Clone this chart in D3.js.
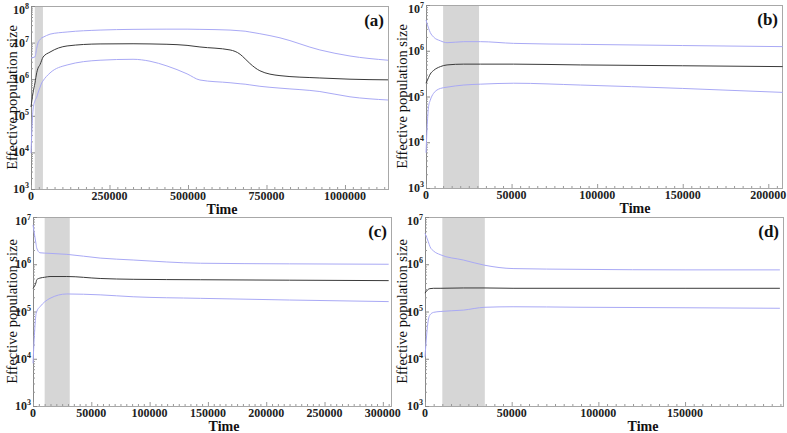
<!DOCTYPE html>
<html>
<head>
<meta charset="utf-8">
<script src="https://cdn.jsdelivr.net/npm/d3@7"></script>
<style>
  body { margin: 0; background: #fff; }
  svg text { font-family: "Liberation Serif", "DejaVu Serif", serif; }
  .frame { fill: none; stroke: #a8a8a8; stroke-width: 1; }
  .band { fill: #d6d6d6; }
  .median { fill: none; stroke: #3a3a3a; stroke-width: 1; }
  .hpd { fill: none; stroke: #a9a9f5; stroke-width: 1; }
</style>
</head>
<body>
<div class="display"></div>
<script>
// four skyline plots, time vs. effective population size (log scale)

const WIDTH = 787;
const HEIGHT = 433;

// panel (a)
const timeA   = [0, 6400, 12700, 18200, 22300, 28700, 34100, 38200, 60500, 115000, 220000, 325000, 379000, 433000, 497000, 538000, 634000, 666000, 682000, 697000, 729000, 793000, 920000, 1016000, 1137000];
const medianA = [1.74e5, 4.2e5, 7.9e5, 1.5e6, 2.0e6, 2.5e6, 3.3e6, 4.0e6, 5.5e6, 8.1e6, 9.2e6, 9.3e6, 9.2e6, 9.0e6, 8.4e6, 7.6e6, 6.3e6, 4.8e6, 3.6e6, 2.7e6, 1.7e6, 1.25e6, 1.08e6, 1.0e6, 9.6e5];
const upperA  = [3.8e6, 3.9e6, 4.1e6, 7.0e6, 9.8e6, 1.2e7, 1.35e7, 1.4e7, 1.7e7, 1.95e7, 2.2e7, 2.3e7, 2.32e7, 2.33e7, 2.33e7, 2.3e7, 2.2e7, 2.1e7, 2.05e7, 1.95e7, 1.75e7, 1.35e7, 6.3e6, 4.3e6, 3.3e6];
const lowerA  = [9.5e3, 1.45e5, 2.6e5, 3.2e5, 4.2e5, 6.0e5, 7.9e5, 9.0e5, 1.48e6, 2.45e6, 3.3e6, 3.5e6, 3.1e6, 2.3e6, 1.4e6, 9.5e5, 8.0e5, 7.5e5, 7.3e5, 7.0e5, 6.4e5, 5.7e5, 4.6e5, 3.3e5, 2.7e5];

// panel (b)
const timeB   = [0, 1500, 2500, 4400, 8400, 12300, 22000, 31800, 51200, 90200, 150000, 208400];
const medianB = [1.95e5, 2.6e5, 3.1e5, 3.7e5, 4.5e5, 4.9e5, 5.1e5, 5.1e5, 5.1e5, 4.9e5, 4.7e5, 4.5e5];
const upperB  = [4.7e6, 3.1e6, 2.5e6, 2.0e6, 1.65e6, 1.5e6, 1.58e6, 1.58e6, 1.45e6, 1.38e6, 1.3e6, 1.23e6];
const lowerB  = [5.9e3, 6.0e4, 8.3e4, 1.17e5, 1.5e5, 1.6e5, 1.78e5, 1.86e5, 1.95e5, 1.78e5, 1.5e5, 1.23e5];

// panel (c)
const timeC   = [0, 2700, 3200, 6000, 10000, 14600, 29000, 57600, 85900, 143500, 220000, 305000];
const medianC = [3.1e5, 4.2e5, 4.7e5, 5.1e5, 5.3e5, 5.5e5, 5.5e5, 5.0e5, 4.8e5, 4.7e5, 4.6e5, 4.5e5];
const upperC  = [6.8e6, 2.6e6, 2.2e6, 1.75e6, 1.72e6, 1.7e6, 1.62e6, 1.35e6, 1.23e6, 1.05e6, 1.02e6, 1.0e6];
const lowerC  = [8.0e3, 9.1e4, 1.0e5, 1.26e5, 1.6e5, 1.9e5, 2.35e5, 2.25e5, 2.05e5, 1.9e5, 1.75e5, 1.62e5];

// panel (d)
const timeD   = [0, 1900, 2900, 5000, 8700, 22100, 34600, 50800, 89400, 150000, 204700];
const medianD = [2.45e5, 2.95e5, 3.05e5, 3.1e5, 3.1e5, 3.15e5, 3.15e5, 3.1e5, 3.1e5, 3.1e5, 3.1e5];
const upperD  = [4.5e6, 3.0e6, 2.35e6, 1.9e6, 1.6e6, 1.23e6, 9.5e5, 8.1e5, 7.8e5, 7.6e5, 7.6e5];
const lowerD  = [1.1e4, 6.6e4, 8.5e4, 9.6e4, 1.0e5, 1.07e5, 1.23e5, 1.26e5, 1.23e5, 1.2e5, 1.17e5];

// x tick labels and shaded interval per panel
const ticksA = [0, 250000, 500000, 750000, 1000000];
const ticksB = [0, 50000, 100000, 150000, 200000];
const ticksC = [0, 50000, 100000, 150000, 200000, 250000, 300000];
const ticksD = [0, 50000, 100000, 150000];
const bandA = [12000, 38000];
const bandB = [10000, 31000];
const bandC = [10000, 31500];
const bandD = [10000, 34500];
const labels = ['(a)', '(b)', '(c)', '(d)'];

const panels = [
  { box: [31, 6, 388, 189],   xMax: 1137000, yExp: [3, 8], time: timeA, med: medianA, up: upperA, lo: lowerA, ticks: ticksA, minor: 25000, band: bandA, timeX: 222, ylabX: 12 },
  { box: [426, 5, 782, 188],  xMax: 208000,  yExp: [3, 7], time: timeB, med: medianB, up: upperB, lo: lowerB, ticks: ticksB, minor: 5000, band: bandB, timeX: 635, ylabX: 402 },
  { box: [33, 217, 391, 406], xMax: 307000,  yExp: [3, 7], time: timeC, med: medianC, up: upperC, lo: lowerC, ticks: ticksC, minor: 5000, band: bandC, timeX: 224, ylabX: 12 },
  { box: [425, 217, 783, 406], xMax: 206500, yExp: [3, 7], time: timeD, med: medianD, up: upperD, lo: lowerD, ticks: ticksD, minor: 5000, band: bandD, timeX: 643, ylabX: 402 }
];

const svg = d3.select('.display')
  .append('svg')
  .attr('width', WIDTH)
  .attr('height', HEIGHT)
  .attr('font-family', '"Liberation Serif", "DejaVu Serif", serif');

function drawPanel(p, i) {
  const [x0, y0, x1, y1] = p.box;
  const g = svg.append('g');

  const x = d3.scaleLinear().domain([0, p.xMax]).range([x0, x1]);
  const y = d3.scaleLog().domain([Math.pow(10, p.yExp[0]), Math.pow(10, p.yExp[1])]).range([y1, y0]);

  // shaded interval
  g.append('rect')
    .attr('class', 'band')
    .attr('x', x(p.band[0]))
    .attr('y', y0)
    .attr('width', x(p.band[1]) - x(p.band[0]))
    .attr('height', y1 - y0);

  // frame
  g.append('rect')
    .attr('class', 'frame')
    .attr('x', x0 + 0.5).attr('y', y0 + 0.5)
    .attr('width', x1 - x0).attr('height', y1 - y0);

  // left axis a bit darker
  g.append('line')
    .attr('x1', x0 + 0.5).attr('x2', x0 + 0.5)
    .attr('y1', y0).attr('y2', y1)
    .attr('stroke', '#888');

  // x minor + major ticks, pointing inwards
  const minorTicks = d3.range(0, p.xMax, p.minor);
  g.selectAll('.xminor')
    .data(minorTicks)
    .enter()
    .append('line')
    .attr('x1', d => x(d) + 0.5).attr('x2', d => x(d) + 0.5)
    .attr('y1', y1).attr('y2', d => y1 - (p.ticks.includes(d) ? 4 : 2))
    .attr('stroke', '#999');

  g.selectAll('.xlab')
    .data(p.ticks)
    .enter()
    .append('text')
    .attr('x', d => x(d))
    .attr('y', y1 + 11)
    .attr('text-anchor', 'middle')
    .attr('font-size', 12)
    .attr('font-weight', 'bold')
    .attr('fill', '#222')
    .text(d => d);

  // y ticks (log)
  const yMinor = [];
  for (let e = p.yExp[0]; e < p.yExp[1]; e++) {
    for (let m = 2; m < 10; m++) yMinor.push(m * Math.pow(10, e));
  }
  g.selectAll('.yminor')
    .data(yMinor)
    .enter()
    .append('line')
    .attr('x1', x0).attr('x2', x0 + 2)
    .attr('y1', d => y(d) + 0.5).attr('y2', d => y(d) + 0.5)
    .attr('stroke', '#999');

  const exps = d3.range(p.yExp[0], p.yExp[1] + 1);
  g.selectAll('.ymajor')
    .data(exps)
    .enter()
    .append('line')
    .attr('x1', x0).attr('x2', x0 + 4)
    .attr('y1', d => y(Math.pow(10, d)) + 0.5).attr('y2', d => y(Math.pow(10, d)) + 0.5)
    .attr('stroke', '#888');

  const ylab = g.selectAll('.ylab')
    .data(exps)
    .enter()
    .append('text')
    .attr('x', x0 - 2)
    .attr('y', d => Math.max(y(Math.pow(10, d)) + 4, y0 + 8))
    .attr('text-anchor', 'end')
    .attr('font-size', 12)
    .attr('font-weight', 'bold')
    .attr('fill', '#222');
  ylab.append('tspan').text('10');
  ylab.append('tspan').attr('dy', -5).attr('font-size', 8).text(d => d);

  // axis titles
  g.append('text')
    .attr('x', p.timeX)
    .attr('y', y1 + 25)
    .attr('text-anchor', 'middle')
    .attr('font-size', 14)
    .attr('font-weight', 'bold')
    .attr('fill', '#111')
    .text('Time');

  g.append('text')
    .attr('transform', `translate(${p.ylabX + 5},${(y0 + y1) / 2}) rotate(-90)`)
    .attr('text-anchor', 'middle')
    .attr('font-size', 14.5)
    .attr('fill', '#111')
    .text('Effective population size');

  g.append('text')
    .attr('x', x1 - 4)
    .attr('y', y0 + 20)
    .attr('text-anchor', 'end')
    .attr('font-size', 17)
    .attr('font-weight', 'bold')
    .attr('fill', '#111')
    .text(labels[i]);

  // curves
  const line = vals => d3.line()
    .x((d, j) => x(p.time[j]))
    .y(d => y(d))
    .curve(d3.curveMonotoneX)(vals);

  g.append('path').attr('class', 'hpd').attr('d', line(p.up));
  g.append('path').attr('class', 'hpd').attr('d', line(p.lo));
  g.append('path').attr('class', 'median').attr('d', line(p.med));
}

panels.forEach(drawPanel);
</script>
</body>
</html>
